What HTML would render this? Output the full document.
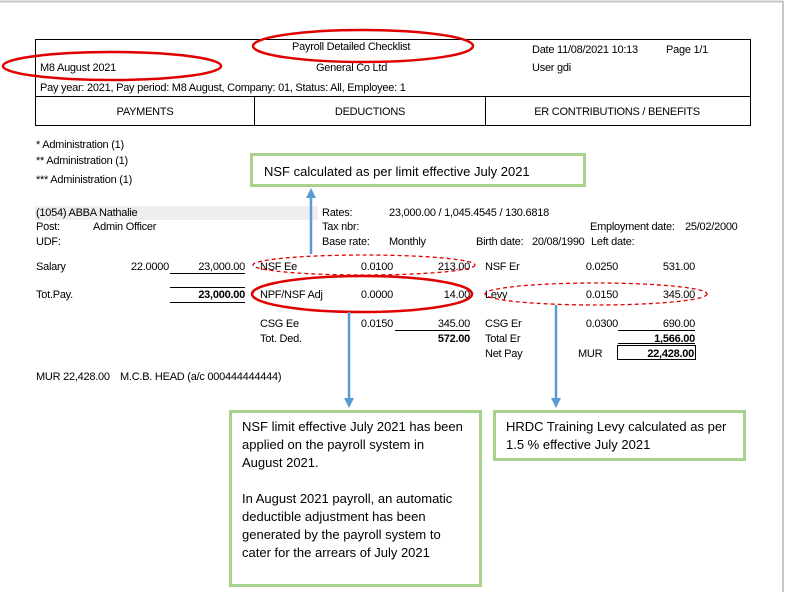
<!DOCTYPE html>
<html><head><meta charset="utf-8"><style>
html,body{margin:0;padding:0;background:#fff;}
svg{display:block;}
.r{font-family:"Liberation Sans",Arial,sans-serif;font-size:11px;letter-spacing:-0.25px;fill:#000;}
.b{font-weight:bold;}
.c{font-family:"Liberation Sans",Arial,sans-serif;font-size:13px;fill:#000;}
</style></head><body>
<svg width="793" height="592" viewBox="0 0 793 592" xmlns="http://www.w3.org/2000/svg">
<rect width="793" height="592" fill="#fff"/>
<line x1="0" y1="1.5" x2="783" y2="1.5" stroke="#c8c8c8" stroke-width="2"/>
<line x1="783" y1="1" x2="783" y2="592" stroke="#c8c8c8" stroke-width="2"/>

<rect x="35.5" y="39.5" width="715" height="86" fill="none" stroke="#000" stroke-width="1"/>
<line x1="35" y1="96.5" x2="750" y2="96.5" stroke="#000"/>
<line x1="254.5" y1="96" x2="254.5" y2="125" stroke="#000"/>
<line x1="485.5" y1="96" x2="485.5" y2="125" stroke="#000"/>
<g class="r">
<text x="292" y="50">Payroll Detailed Checklist</text>
<text x="40" y="71">M8 August 2021</text>
<text x="316" y="71">General Co Ltd</text>
<text x="532" y="53">Date  11/08/2021 10:13</text>
<text x="666" y="53">Page 1/1</text>
<text x="532" y="71">User  gdi</text>
<text x="40" y="91">Pay year: 2021, Pay period: M8 August, Company: 01, Status: All, Employee: 1</text>
<text x="145" y="115" text-anchor="middle">PAYMENTS</text>
<text x="370" y="115" text-anchor="middle">DEDUCTIONS</text>
<text x="617" y="115" text-anchor="middle">ER CONTRIBUTIONS / BENEFITS</text>
<text x="36" y="148">* Administration (1)</text>
<text x="36" y="164">** Administration (1)</text>
<text x="36" y="183">*** Administration (1)</text>
</g>
<ellipse cx="363" cy="46" rx="110" ry="16" fill="none" stroke="#e00000" stroke-width="2.5"/>
<ellipse cx="112" cy="66" rx="109" ry="14" fill="none" stroke="#e00000" stroke-width="2.5"/>

<rect x="251.5" y="154.5" width="333" height="31" fill="#fff" stroke="#a9d18e" stroke-width="3"/>
<text class="c" x="264" y="176">NSF calculated as per limit effective July 2021</text>

<rect x="35" y="206" width="283" height="14" fill="#eeeeee"/>
<g class="r">
<text x="36" y="216">(1054) ABBA Nathalie</text>
<text x="322" y="216">Rates:</text>
<text x="389" y="216">23,000.00 / 1,045.4545 / 130.6818</text>
<text x="36" y="230">Post:</text>
<text x="93" y="230">Admin Officer</text>
<text x="322" y="230">Tax nbr:</text>
<text x="590" y="230">Employment date:</text>
<text x="685" y="230">25/02/2000</text>
<text x="36" y="245">UDF:</text>
<text x="322" y="245">Base rate:</text>
<text x="389" y="245">Monthly</text>
<text x="476" y="245">Birth date:</text>
<text x="532" y="245">20/08/1990</text>
<text x="591" y="245">Left date:</text>

<text x="36" y="270">Salary</text>
<text x="169" y="270" text-anchor="end">22.0000</text>
<text x="245" y="270" text-anchor="end">23,000.00</text>
<text x="260" y="270">NSF Ee</text>
<text x="393" y="270" text-anchor="end">0.0100</text>
<text x="470" y="270" text-anchor="end">213.00</text>
<text x="485" y="270">NSF Er</text>
<text x="618" y="270" text-anchor="end">0.0250</text>
<text x="695" y="270" text-anchor="end">531.00</text>

<text x="36" y="298">Tot.Pay.</text>
<text x="245" y="298" text-anchor="end" class="b">23,000.00</text>
<text x="260" y="298">NPF/NSF Adj</text>
<text x="393" y="298" text-anchor="end">0.0000</text>
<text x="470" y="298" text-anchor="end">14.00</text>
<text x="485" y="298">Levy</text>
<text x="618" y="298" text-anchor="end">0.0150</text>
<text x="695" y="298" text-anchor="end">345.00</text>

<text x="260" y="327">CSG Ee</text>
<text x="393" y="327" text-anchor="end">0.0150</text>
<text x="470" y="327" text-anchor="end">345.00</text>
<text x="485" y="327">CSG Er</text>
<text x="618" y="327" text-anchor="end">0.0300</text>
<text x="695" y="327" text-anchor="end">690.00</text>

<text x="260" y="342">Tot. Ded.</text>
<text x="470" y="342" text-anchor="end" class="b">572.00</text>
<text x="485" y="342">Total Er</text>
<text x="695" y="342" text-anchor="end" class="b">1,566.00</text>

<text x="485" y="357">Net Pay</text>
<text x="578" y="357">MUR</text>
<text x="694" y="357" text-anchor="end" class="b">22,428.00</text>

<text x="36" y="380">MUR 22,428.00</text>
<text x="120" y="380">M.C.B. HEAD (a/c 000444444444)</text>
</g>
<g stroke="#000" stroke-width="1">
<line x1="170" y1="273.5" x2="245" y2="273.5"/>
<line x1="170" y1="287.5" x2="245" y2="287.5"/>
<line x1="170" y1="302.5" x2="245" y2="302.5"/>
<line x1="395" y1="330.5" x2="470" y2="330.5"/>
<line x1="618" y1="330.5" x2="695" y2="330.5"/>
<line x1="618" y1="343.5" x2="695" y2="343.5"/>
<rect x="617.5" y="345.5" width="78" height="14" fill="none"/>
</g>

<ellipse cx="364" cy="265" rx="111" ry="10" fill="none" stroke="#e00000" stroke-width="1.3" stroke-dasharray="4,3"/>
<ellipse cx="362" cy="294" rx="110" ry="18" fill="none" stroke="#e00000" stroke-width="2.5"/>
<ellipse cx="596" cy="294" rx="111" ry="11" fill="none" stroke="#e00000" stroke-width="1.3" stroke-dasharray="4,3"/>

<g stroke="#5b9bd5" stroke-width="2.5">
<line x1="311" y1="254" x2="311" y2="196"/>
<line x1="349" y1="312" x2="349" y2="400"/>
<line x1="556" y1="305" x2="556" y2="400"/>
</g>
<g fill="#5b9bd5">
<polygon points="311,188 306,198 316,198"/>
<polygon points="349,408 344,398 354,398"/>
<polygon points="556,408 551,398 561,398"/>
</g>

<rect x="230.5" y="411.5" width="250" height="174" fill="#fff" stroke="#a9d18e" stroke-width="3"/>
<g class="c">
<text x="242" y="431">NSF limit effective July 2021 has been</text>
<text x="242" y="449">applied on the payroll system in</text>
<text x="242" y="467">August 2021.</text>
<text x="242" y="503">In August 2021 payroll, an automatic</text>
<text x="242" y="521">deductible adjustment has been</text>
<text x="242" y="539">generated by the payroll system to</text>
<text x="242" y="557">cater for the arrears of July 2021</text>
</g>
<rect x="494.5" y="411.5" width="250" height="48" fill="#fff" stroke="#a9d18e" stroke-width="3"/>
<g class="c">
<text x="506" y="431">HRDC Training Levy calculated as per</text>
<text x="506" y="449">1.5 % effective July 2021</text>
</g>
</svg>
</body></html>
